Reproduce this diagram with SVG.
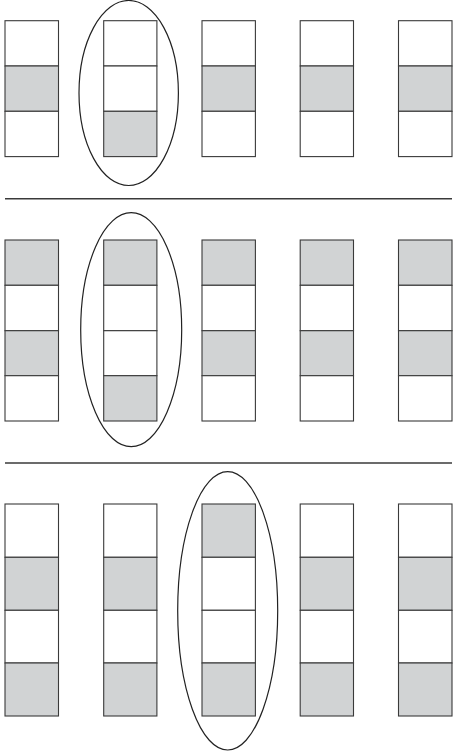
<svg xmlns="http://www.w3.org/2000/svg" width="453" height="754" viewBox="0 0 453 754">
<style>
.c{stroke:#3a3a3a;stroke-width:1.1}
.w{fill:#ffffff}
.g{fill:#d1d3d4}
.e{fill:none;stroke:#222;stroke-width:1.2}
.l{stroke:#3a3a3a;stroke-width:1.5}
</style>
<rect width="453" height="754" fill="#fff"/>
<g id="separators">
<line class="l" x1="5" y1="198.8" x2="452" y2="198.8"/>
<line class="l" x1="5" y1="463" x2="452" y2="463"/>
</g>
<g id="row1">
<g id="r1c1"><rect class="c w" x="5" y="20.7" width="53.5" height="45.3"/><rect class="c g" x="5" y="66" width="53.5" height="45.3"/><rect class="c w" x="5" y="111.3" width="53.5" height="45.3"/></g>
<g id="r1c2"><rect class="c w" x="103.7" y="20.7" width="53.2" height="45.3"/><rect class="c w" x="103.7" y="66" width="53.2" height="45.3"/><rect class="c g" x="103.7" y="111.3" width="53.2" height="45.3"/></g>
<g id="r1c3"><rect class="c w" x="202" y="20.7" width="53.4" height="45.3"/><rect class="c g" x="202" y="66" width="53.4" height="45.3"/><rect class="c w" x="202" y="111.3" width="53.4" height="45.3"/></g>
<g id="r1c4"><rect class="c w" x="300.2" y="20.7" width="53.3" height="45.3"/><rect class="c g" x="300.2" y="66" width="53.3" height="45.3"/><rect class="c w" x="300.2" y="111.3" width="53.3" height="45.3"/></g>
<g id="r1c5"><rect class="c w" x="398.5" y="20.7" width="53.5" height="45.3"/><rect class="c g" x="398.5" y="66" width="53.5" height="45.3"/><rect class="c w" x="398.5" y="111.3" width="53.5" height="45.3"/></g>
<ellipse id="oval1" class="e" cx="128.7" cy="93" rx="49.7" ry="92.5"/>
</g>
<g id="row2">
<g id="r2c1"><rect class="c g" x="5" y="240" width="53.5" height="45.3"/><rect class="c w" x="5" y="285.3" width="53.5" height="45.4"/><rect class="c g" x="5" y="330.7" width="53.5" height="45"/><rect class="c w" x="5" y="375.7" width="53.5" height="45.3"/></g>
<g id="r2c2"><rect class="c g" x="103.7" y="240" width="53.2" height="45.3"/><rect class="c w" x="103.7" y="285.3" width="53.2" height="45.4"/><rect class="c w" x="103.7" y="330.7" width="53.2" height="45"/><rect class="c g" x="103.7" y="375.7" width="53.2" height="45.3"/></g>
<g id="r2c3"><rect class="c g" x="202" y="240" width="53.4" height="45.3"/><rect class="c w" x="202" y="285.3" width="53.4" height="45.4"/><rect class="c g" x="202" y="330.7" width="53.4" height="45"/><rect class="c w" x="202" y="375.7" width="53.4" height="45.3"/></g>
<g id="r2c4"><rect class="c g" x="300.2" y="240" width="53.3" height="45.3"/><rect class="c w" x="300.2" y="285.3" width="53.3" height="45.4"/><rect class="c g" x="300.2" y="330.7" width="53.3" height="45"/><rect class="c w" x="300.2" y="375.7" width="53.3" height="45.3"/></g>
<g id="r2c5"><rect class="c g" x="398.5" y="240" width="53.5" height="45.3"/><rect class="c w" x="398.5" y="285.3" width="53.5" height="45.4"/><rect class="c g" x="398.5" y="330.7" width="53.5" height="45"/><rect class="c w" x="398.5" y="375.7" width="53.5" height="45.3"/></g>
<ellipse id="oval2" class="e" cx="131.2" cy="329.7" rx="50.5" ry="117"/>
</g>
<g id="row3">
<g id="r3c1"><rect class="c w" x="5" y="504" width="53.5" height="53.3"/><rect class="c g" x="5" y="557.3" width="53.5" height="53"/><rect class="c w" x="5" y="610.3" width="53.5" height="52.7"/><rect class="c g" x="5" y="663" width="53.5" height="53"/></g>
<g id="r3c2"><rect class="c w" x="103.7" y="504" width="53.2" height="53.3"/><rect class="c g" x="103.7" y="557.3" width="53.2" height="53"/><rect class="c w" x="103.7" y="610.3" width="53.2" height="52.7"/><rect class="c g" x="103.7" y="663" width="53.2" height="53"/></g>
<g id="r3c3"><rect class="c g" x="202" y="504" width="53.4" height="53.3"/><rect class="c w" x="202" y="557.3" width="53.4" height="53"/><rect class="c w" x="202" y="610.3" width="53.4" height="52.7"/><rect class="c g" x="202" y="663" width="53.4" height="53"/></g>
<g id="r3c4"><rect class="c w" x="300.2" y="504" width="53.3" height="53.3"/><rect class="c g" x="300.2" y="557.3" width="53.3" height="53"/><rect class="c w" x="300.2" y="610.3" width="53.3" height="52.7"/><rect class="c g" x="300.2" y="663" width="53.3" height="53"/></g>
<g id="r3c5"><rect class="c w" x="398.5" y="504" width="53.5" height="53.3"/><rect class="c g" x="398.5" y="557.3" width="53.5" height="53"/><rect class="c w" x="398.5" y="610.3" width="53.5" height="52.7"/><rect class="c g" x="398.5" y="663" width="53.5" height="53"/></g>
<ellipse id="oval3" class="e" cx="227.7" cy="610.8" rx="50" ry="139.2"/>
</g>
</svg>
